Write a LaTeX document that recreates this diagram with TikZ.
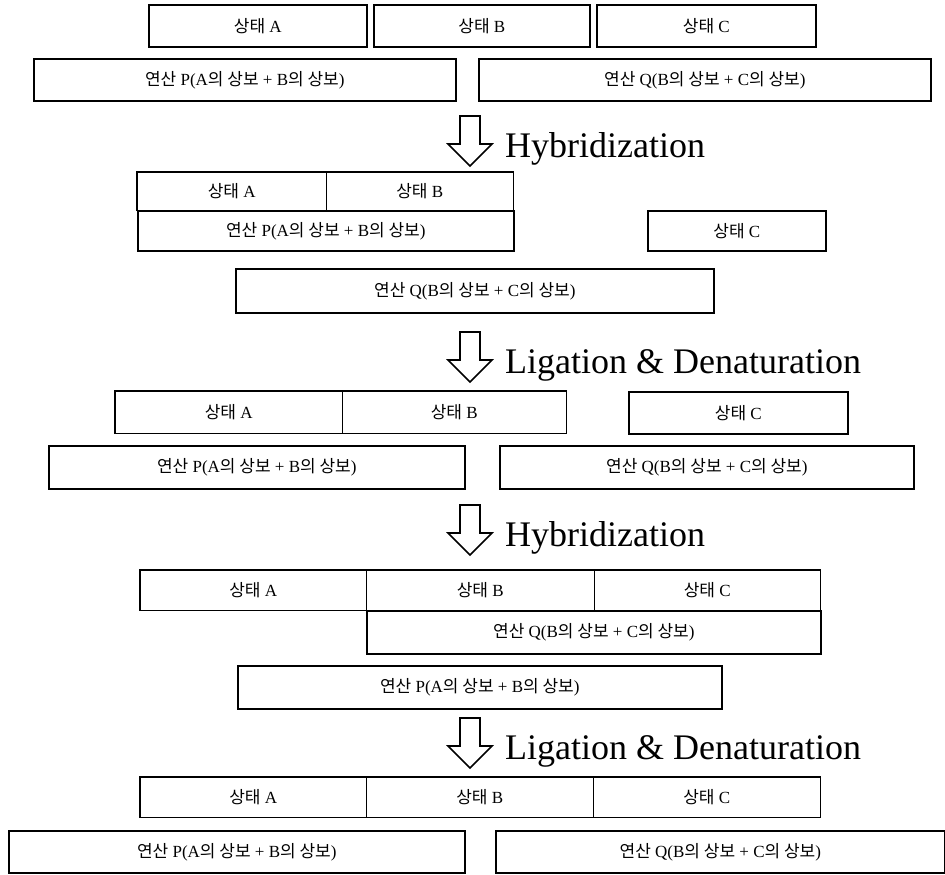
\documentclass[tikz,border=0pt]{standalone}
\usepackage{fontspec}
\setmainfont{Liberation Serif}
\newfontfamily\cjk{Noto Sans CJK KR}
\usetikzlibrary{positioning}
\newcommand{\kr}[1]{{\cjk #1}}
\newcommand{\sa}{\kr{상태}}
\newcommand{\opP}{\kr{연산} P(A\kr{의 상보} + B\kr{의 상보})}
\newcommand{\opQ}{\kr{연산} Q(B\kr{의 상보} + C\kr{의 상보})}
\tikzset{
  cell/.style={anchor=north west,inner sep=0pt,font=\fontsize{17}{19}\selectfont},
  frame/.style={line width=1.6pt},
  split/.style={line width=0.6pt},
  hollow/.style={line width=1.6pt,line join=miter},
  steplabel/.style={anchor=base west,inner sep=0pt,font=\fontsize{36}{40}\selectfont}
}
\begin{document}
\begin{tikzpicture}[x=1pt,y=-1pt]
\useasboundingbox (0,0) rectangle (945,875);

\node[cell,draw,frame,minimum width=218pt,minimum height=42pt] (sa1) at (148,4) {\sa{} A};
\node[cell,draw,frame,minimum width=216pt,minimum height=42pt] (sb1) at (373,4) {\sa{} B};
\node[cell,draw,frame,minimum width=219pt,minimum height=42pt] (sc1) at (596,4) {\sa{} C};
\node[cell,draw,frame,minimum width=422pt,minimum height=42pt] (p1) at (33,58) {\opP};
\node[cell,draw,frame,minimum width=452pt,minimum height=42pt] (q1) at (478,58) {\opQ};

\node[cell,minimum width=189pt,minimum height=38pt] (sa2) at (137,172) {\sa{} A};
\node[cell,minimum width=187pt,minimum height=38pt] (sb2) at (326,172) {\sa{} B};
\draw[frame] (sa2.north west) rectangle (sb2.south east);
\draw[split] (sa2.north east) -- (sa2.south east);
\node[cell,draw,frame,minimum width=376pt,minimum height=40pt] (p2) at (137,210) {\opP};
\node[cell,draw,frame,minimum width=178pt,minimum height=40pt] (sc2) at (647,210) {\sa{} C};
\node[cell,draw,frame,minimum width=478pt,minimum height=44pt] (q2) at (235,268) {\opQ};

\node[cell,minimum width=227pt,minimum height=42pt] (sa3) at (115,391) {\sa{} A};
\node[cell,minimum width=224pt,minimum height=42pt] (sb3) at (342,391) {\sa{} B};
\draw[frame] (sa3.north west) rectangle (sb3.south east);
\draw[split] (sa3.north east) -- (sa3.south east);
\node[cell,draw,frame,minimum width=219pt,minimum height=42pt] (sc3) at (628,391) {\sa{} C};
\node[cell,draw,frame,minimum width=416pt,minimum height=43pt] (p3) at (48,445) {\opP};
\node[cell,draw,frame,minimum width=414pt,minimum height=43pt] (q3) at (499,445) {\opQ};

\node[cell,minimum width=226pt,minimum height=40pt] (sa4) at (140,570) {\sa{} A};
\node[cell,minimum width=228pt,minimum height=40pt] (sb4) at (366,570) {\sa{} B};
\node[cell,minimum width=226pt,minimum height=40pt] (sc4) at (594,570) {\sa{} C};
\draw[frame] (sa4.north west) rectangle (sc4.south east);
\draw[split] (sa4.north east) -- (sa4.south east) (sb4.north east) -- (sb4.south east);
\node[cell,draw,frame,minimum width=454pt,minimum height=43pt] (q4) at (366,610) {\opQ};
\node[cell,draw,frame,minimum width=484pt,minimum height=43pt] (p4) at (237,665) {\opP};

\node[cell,minimum width=226pt,minimum height=40pt] (sa5) at (140,777) {\sa{} A};
\node[cell,minimum width=227pt,minimum height=40pt] (sb5) at (366,777) {\sa{} B};
\node[cell,minimum width=227pt,minimum height=40pt] (sc5) at (593,777) {\sa{} C};
\draw[frame] (sa5.north west) rectangle (sc5.south east);
\draw[split] (sa5.north east) -- (sa5.south east) (sb5.north east) -- (sb5.south east);
\node[cell,draw,frame,minimum width=456pt,minimum height=42pt] (p5) at (8,830) {\opP};
\node[cell,draw,frame,minimum width=449pt,minimum height=42pt] (q5) at (495,830) {\opQ};

\foreach \i/\y/\t in {1/116/Hybridization,2/332/Ligation \& Denaturation,3/505/Hybridization,4/718/Ligation \& Denaturation}{
  \draw[hollow] (460,\y) -- (480,\y) -- (480,\y+28) -- (492,\y+28) -- (470,\y+50) -- (448,\y+28) -- (460,\y+28) -- cycle;
  \node[steplabel] (lbl\i) at (505,\y+41) {\t};
}
\end{tikzpicture}
\end{document}
